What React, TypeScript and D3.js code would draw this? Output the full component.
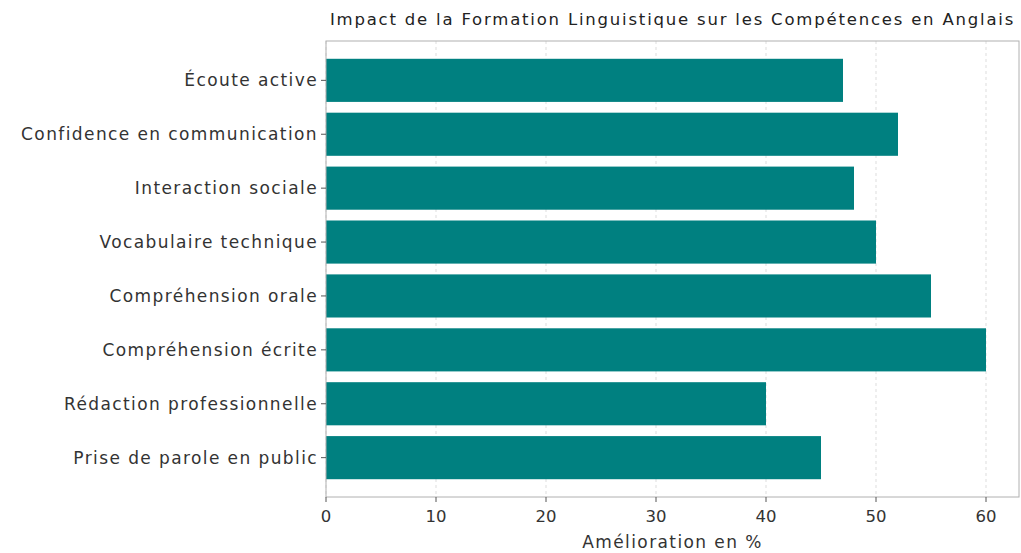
import React from "react";
import * as d3 from "d3";

const categories = [
  "Écoute active",
  "Confidence en communication",
  "Interaction sociale",
  "Vocabulaire technique",
  "Compréhension orale",
  "Compréhension écrite",
  "Rédaction professionnelle",
  "Prise de parole en public",
];
const values = [47, 52, 48, 50, 55, 60, 40, 45];
const xTicks = [0, 10, 20, 30, 40, 50, 60];
const title = "Impact de la Formation Linguistique sur les Compétences en Anglais";
const xLabel = "Amélioration en %";

const W = 1021;
const H = 553;
const margin = { left: 326, right: 2, top: 41, bottom: 56 };
const FONT = "'DejaVu Sans', sans-serif";

export default function App() {
  const x = d3.scaleLinear().domain([0, 63]).range([margin.left, W - margin.right]);
  const y = d3
    .scaleBand<string>()
    .domain(categories)
    .range([margin.top, H - margin.bottom])
    .paddingInner(0.2)
    .paddingOuter(0.33);
  const top = margin.top;
  const bottom = H - margin.bottom;
  const left = margin.left;
  const right = W - margin.right;
  return (
    <svg
      width={W}
      height={H}
      style={{ position: "absolute", left: 0, top: 0, background: "#fff" }}
      fontFamily={FONT}
    >
      {xTicks.map((t) => (
        <line
          key={"g" + t}
          x1={x(t)}
          x2={x(t)}
          y1={top}
          y2={bottom}
          stroke="#d4d4d4"
          strokeDasharray="3,3"
          strokeWidth={0.8}
        />
      ))}
      {categories.map((c, i) => (
        <rect
          key={c}
          x={x(0)}
          y={y(c)}
          width={x(values[i]) - x(0)}
          height={y.bandwidth()}
          fill="#008080"
        />
      ))}
      <rect x={left} y={top} width={right - left} height={bottom - top} fill="none" stroke="#b0b0b0" strokeWidth={1} />
      {xTicks.map((t) => (
        <g key={"t" + t}>
          <line x1={x(t)} x2={x(t)} y1={bottom} y2={bottom + 5} stroke="#555" />
          <text x={x(t)} y={bottom + 25} textAnchor="middle" fontSize={16.5} fill="#333">
            {t}
          </text>
        </g>
      ))}
      {categories.map((c) => {
        const cy = (y(c) as number) + y.bandwidth() / 2;
        return (
          <g key={"l" + c}>
            <line x1={left - 5} x2={left} y1={cy} y2={cy} stroke="#555" />
            <text
              x={left - 8}
              y={cy}
              dy="0.35em"
              textAnchor="end"
              fontSize={17}
              letterSpacing={1.4}
              fill="#333"
            >
              {c}
            </text>
          </g>
        );
      })}
      <text x={(left + right) / 2} y={548} textAnchor="middle" fontSize={17} letterSpacing={1.4} fill="#333">
        {xLabel}
      </text>
      <text x={(left + right) / 2} y={25} textAnchor="middle" fontSize={16.5} letterSpacing={1.8} fill="#222">
        {title}
      </text>
    </svg>
  );
}
